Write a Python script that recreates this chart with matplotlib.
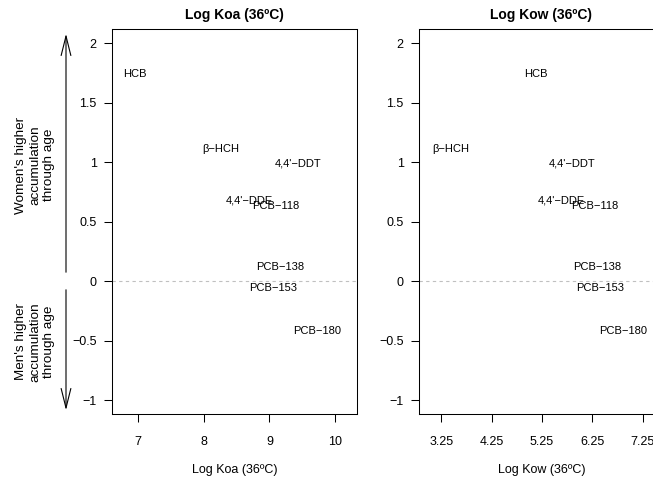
#!/usr/bin/env python3
"""Accumulation differences by sex vs. partition coefficients (Koa / Kow)."""

import matplotlib

matplotlib.use("Agg")
import matplotlib.pyplot as plt

plt.rcParams["font.family"] = ["Liberation Sans", "DejaVu Sans"]

compounds = ["HCB", "β−HCH", "4,4'−DDT", "4,4'−DDE", "PCB−118",
             "PCB−138", "PCB−153", "PCB−180"]
accum_diff = [1.74, 1.11, 0.99, 0.68, 0.63, 0.12, -0.06, -0.415]
log_koa = [6.95, 8.26, 9.43, 8.70, 9.09, 9.16, 9.06, 9.72]
log_kow = [5.12, 3.44, 5.84, 5.63, 6.30, 6.34, 6.40, 6.86]

koa_ticks = [7, 8, 9, 10]
kow_ticks = [3.25, 4.25, 5.25, 6.25, 7.25]
y_ticks = [-1, -0.5, 0, 0.5, 1, 1.5, 2]
y_ticklabels = ["\u22121", "\u22120.5", "0", "0.5", "1", "1.5", "2"]

W, H = 653, 480


def px_axes(fig, left, top, right, bottom):
    return fig.add_axes([left / W, 1 - bottom / H, (right - left) / W, (bottom - top) / H])


def style_panel(ax, xs, xticks, xlim, title, xlabel):
    for name, x, y in zip(compounds, xs, accum_diff):
        ax.text(x, y, name, ha="center", va="center", fontsize=8)
    ax.axhline(0, color="#c0c0c0", linestyle=(0, (3, 3)), linewidth=0.8, zorder=0)
    ax.set_xlim(*xlim)
    ax.set_ylim(-1.115, 2.12)
    ax.set_xticks(xticks)
    ax.set_xticklabels([f"{t:g}" for t in xticks])
    ax.set_yticks(y_ticks)
    ax.set_yticklabels(y_ticklabels)
    ax.tick_params(axis="both", direction="out", length=6, width=0.75,
                   labelsize=9)
    ax.tick_params(axis="x", pad=9.5)
    ax.tick_params(axis="y", pad=5)
    for sp in ax.spines.values():
        sp.set_linewidth(0.75)
    ax.set_title(title, fontsize=10, fontweight="bold", pad=7)
    ax.set_xlabel(xlabel, fontsize=9, labelpad=12)


fig = plt.figure(figsize=(W / 100, H / 100), dpi=100)

ax1 = px_axes(fig, 112, 29, 357, 414)
style_panel(ax1, log_koa, koa_ticks, (6.61, 10.33), "Log Koa (36ºC)", "Log Koa (36ºC)")

ax2 = px_axes(fig, 419, 29, 664, 414)
style_panel(ax2, log_kow, kow_ticks, (2.81, 7.67), "Log Kow (36ºC)", "Log Kow (36ºC)")

# side arrows with annotation
arrow_x = 66 / W
astyle = dict(arrowstyle="->,head_length=1.4,head_width=0.35", lw=0.8, color="black")
ax1.annotate("", xy=(arrow_x, 1 - 31 / H), xytext=(arrow_x, 1 - 275 / H),
             xycoords="figure fraction", textcoords="figure fraction",
             arrowprops=astyle, annotation_clip=False)
ax1.annotate("", xy=(arrow_x, 1 - 413 / H), xytext=(arrow_x, 1 - 287 / H),
             xycoords="figure fraction", textcoords="figure fraction",
             arrowprops=astyle, annotation_clip=False)

fig.text(35 / W, 1 - 165 / H, "Women's higher\naccumulation\nthrough age",
         rotation=90, ha="center", va="center", fontsize=9.7, linespacing=1.2)
fig.text(35 / W, 1 - 342 / H, "Men's higher\naccumulation\nthrough age",
         rotation=90, ha="center", va="center", fontsize=9.7, linespacing=1.2)

fig.savefig("out.png", dpi=100)
